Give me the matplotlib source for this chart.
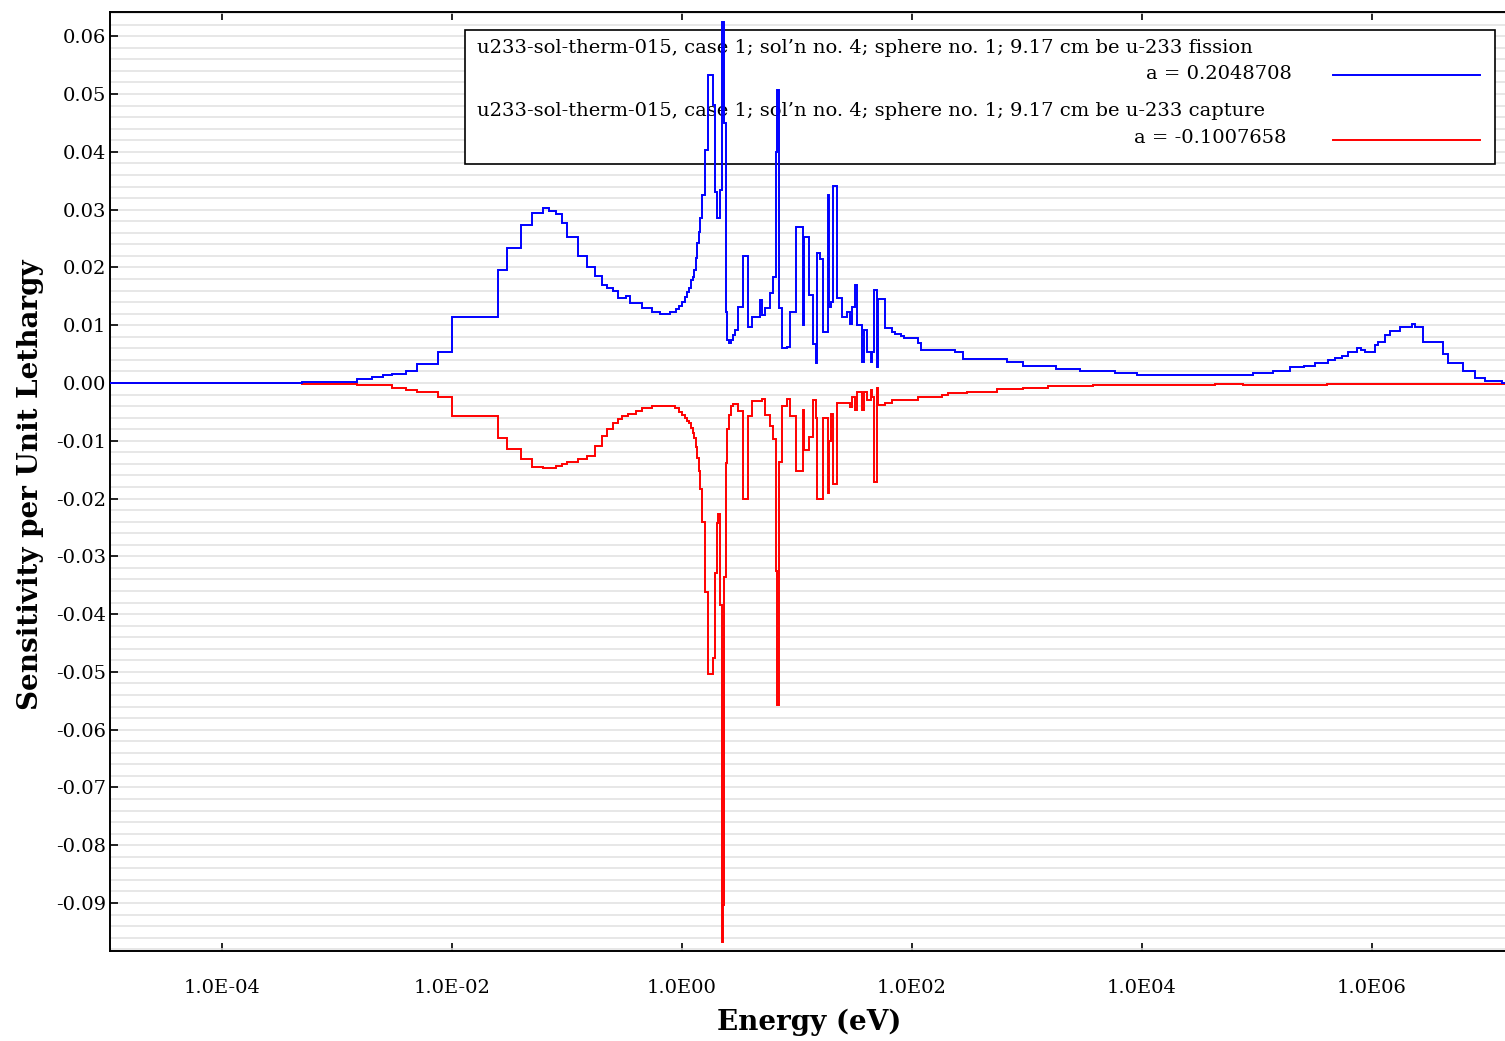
import numpy as np
import matplotlib
matplotlib.use("Agg")
import matplotlib.pyplot as plt
import matplotlib.ticker as ticker
from matplotlib.patches import Rectangle

# ---------------------------- DATA --------------------------------#
# lower group boundaries (eV) and sensitivity per unit lethargy
E_MAX = 2.0e7

fission_e = [1e-5, 5e-4, 1.5e-3, 2e-3, 2.5e-3, 3e-3, 4e-3, 5e-3, 7.5e-3, 1e-2,
             2.53e-2, 3e-2, 4e-2, 5e-2, 6.2e-2, 7e-2, 8e-2, 9e-2, 0.1, 0.125,
             0.15, 0.175, 0.2, 0.225, 0.25, 0.275, 0.325, 0.35, 0.45, 0.55,
             0.65, 0.78, 0.88, 0.94, 1.0, 1.06, 1.10, 1.15, 1.19, 1.24,
             1.27, 1.32, 1.36, 1.40, 1.43, 1.48, 1.585, 1.68, 1.85, 1.94,
             2.00, 2.14, 2.21, 2.32, 2.40, 2.45, 2.58, 2.67, 2.78, 2.89,
             3.07, 3.41, 3.77, 4.04, 4.77, 4.93, 5.27, 5.82, 6.22, 6.57,
             6.77, 6.97, 7.36, 8.13, 8.69, 9.80, 11.3, 11.5, 12.8, 13.7,
             14.6, 15.0, 15.85, 16.7, 18.5, 19.0, 19.6, 20.7, 22.4, 24.5,
             27.1, 28.9, 29.9, 31.9, 33.2, 36.7, 38.2, 40.9, 43.7, 45.4,
             47.0, 49.3, 51.1, 58.2, 66.6, 71.1, 80.2, 85.2, 113, 121,
             237, 279, 666, 923, 1778, 2891, 5823, 9057, 9.23e4, 1.38e5,
             1.94e5, 2.56e5, 3.19e5, 4.14e5, 4.76e5, 5.48e5, 6.18e5, 7.41e5, 8.02e5, 8.69e5,
             1.06e6, 1.13e6, 1.30e6, 1.43e6, 1.75e6, 2.23e6, 2.36e6, 2.78e6, 4.14e6, 4.58e6,
             6.18e6, 7.87e6, 9.61e6, 1.35e7]
fission_s = [0.0, 0.0002, 0.0007, 0.0011, 0.0014, 0.0015, 0.0021, 0.0033, 0.0054, 0.0114,
             0.0196, 0.0234, 0.0274, 0.0295, 0.0303, 0.0298, 0.0292, 0.0276, 0.0252, 0.0219,
             0.0201, 0.0185, 0.0170, 0.0164, 0.0160, 0.0147, 0.0151, 0.0138, 0.0129, 0.0123,
             0.0119, 0.0122, 0.0128, 0.0133, 0.0141, 0.0149, 0.0158, 0.0164, 0.0178, 0.0183,
             0.0196, 0.0216, 0.0242, 0.0262, 0.0285, 0.0325, 0.0403, 0.0533, 0.0481, 0.0331,
             0.0285, 0.0334, 0.0625, 0.0450, 0.0123, 0.0074, 0.0069, 0.0074, 0.0083, 0.0092,
             0.0132, 0.0219, 0.0097, 0.0115, 0.0144, 0.0118, 0.0130, 0.0156, 0.0184, 0.0400,
             0.0507, 0.0130, 0.0060, 0.0062, 0.0123, 0.0270, 0.0100, 0.0253, 0.0152, 0.0067,
             0.0035, 0.0225, 0.0215, 0.0089, 0.0325, 0.0132, 0.0140, 0.0341, 0.0147, 0.0114,
             0.0123, 0.0102, 0.0132, 0.0170, 0.0100, 0.0037, 0.0092, 0.0054, 0.0037, 0.0054,
             0.0161, 0.0028, 0.0145, 0.0095, 0.0089, 0.0084, 0.0081, 0.0077, 0.0070, 0.0057,
             0.0054, 0.0042, 0.0036, 0.0029, 0.0024, 0.0021, 0.0018, 0.0014, 0.0018, 0.0021,
             0.0027, 0.0029, 0.0034, 0.0040, 0.0044, 0.0047, 0.0054, 0.0061, 0.0057, 0.0054,
             0.0066, 0.0071, 0.0083, 0.0090, 0.0097, 0.0102, 0.0097, 0.0071, 0.0051, 0.0034,
             0.0021, 0.0008, 0.0003, 0.0]

capture_e = [1e-5, 5e-4, 1.5e-3, 3e-3, 4e-3, 5e-3, 7.5e-3, 1e-2, 2.53e-2, 3e-2,
             4e-2, 5e-2, 6.2e-2, 8e-2, 9e-2, 0.1, 0.125, 0.15, 0.175, 0.2,
             0.225, 0.25, 0.275, 0.30, 0.34, 0.40, 0.45, 0.55, 0.87, 0.94,
             1.0, 1.06, 1.10, 1.15, 1.19, 1.24, 1.27, 1.32, 1.36, 1.40,
             1.43, 1.48, 1.585, 1.68, 1.85, 1.94, 2.00, 2.07, 2.14, 2.21,
             2.27, 2.32, 2.40, 2.45, 2.58, 2.67, 2.78, 3.07, 3.41, 3.77,
             4.04, 4.93, 5.27, 5.82, 6.22, 6.57, 6.77, 6.97, 7.36, 8.13,
             8.69, 9.80, 11.3, 11.5, 12.8, 13.7, 14.6, 15.0, 16.7, 18.5,
             19.0, 19.6, 20.7, 22.4, 24.5, 28.9, 29.9, 31.9, 33.2, 36.7,
             38.2, 40.9, 43.7, 45.4, 47.0, 49.3, 51.1, 58.2, 66.6, 113,
             181, 207, 299, 545, 923, 1523, 3750, 4.31e4, 7.56e4, 4.06e5]
capture_s = [0.0, -0.0001, -0.0003, -0.0008, -0.0012, -0.0016, -0.0025, -0.0058, -0.0096, -0.0115,
             -0.0132, -0.0145, -0.0148, -0.0144, -0.0140, -0.0136, -0.0132, -0.0126, -0.0109, -0.0092,
             -0.0080, -0.0070, -0.0063, -0.0058, -0.0053, -0.0048, -0.0044, -0.0040, -0.0044, -0.0050,
             -0.0055, -0.0060, -0.0065, -0.0070, -0.0078, -0.0086, -0.0095, -0.0111, -0.0130, -0.0153,
             -0.0184, -0.0240, -0.0361, -0.0503, -0.0476, -0.0328, -0.0243, -0.0226, -0.0385, -0.0967,
             -0.0904, -0.0335, -0.0139, -0.0080, -0.0056, -0.0040, -0.0036, -0.0048, -0.0201, -0.0058,
             -0.0031, -0.0027, -0.0055, -0.0074, -0.0097, -0.0325, -0.0558, -0.0136, -0.0040, -0.0027,
             -0.0058, -0.0153, -0.0047, -0.0116, -0.0093, -0.0030, -0.0060, -0.0200, -0.0061, -0.0190,
             -0.0100, -0.0053, -0.0174, -0.0035, -0.0034, -0.0041, -0.0024, -0.0047, -0.0015, -0.0047,
             -0.0016, -0.0030, -0.0012, -0.0024, -0.0171, -0.0009, -0.0038, -0.0035, -0.0030, -0.0024,
             -0.0021, -0.0018, -0.0015, -0.0011, -0.0008, -0.0006, -0.0003, -0.0001, -0.0003, -0.0001]

fission_label = "u233-sol-therm-015, case 1; sol\u2019n no. 4; sphere no. 1; 9.17 cm be u-233 fission"
capture_label = "u233-sol-therm-015, case 1; sol\u2019n no. 4; sphere no. 1; 9.17 cm be u-233 capture"
fission_total = 0.2048708
capture_total = -0.1007658

x_ticks = [1e-4, 1e-2, 1e0, 1e2, 1e4, 1e6]
y_ticks = [-0.09, -0.08, -0.07, -0.06, -0.05, -0.04, -0.03, -0.02, -0.01,
           0.00, 0.01, 0.02, 0.03, 0.04, 0.05, 0.06]

########
# PLOT #
########
plt.rcParams.update({'font.family': 'DejaVu Serif',
                     'font.size': 14,
                     'axes.unicode_minus': False})

fig = plt.figure(figsize=(15.05, 10.41), dpi=100)
ax = fig.add_axes([110 / 1505, 90 / 1041, 1395 / 1505, 939 / 1041])

ax.stairs(capture_s, np.append(capture_e, E_MAX), color='#ff0000', linewidth=1.4, zorder=4)
ax.stairs(fission_s, np.append(fission_e, E_MAX), color='#0000ff', linewidth=1.4, zorder=5)

ax.set_xscale('log')
ax.set_xlim(1.06e-5, 1.44e7)
ax.set_ylim(-0.0983, 0.0642)

ax.xaxis.set_major_locator(ticker.FixedLocator(x_ticks))
ax.xaxis.set_minor_locator(ticker.NullLocator())
ax.xaxis.set_major_formatter(ticker.FuncFormatter(lambda v, p: f"{v:.1E}".replace('+', '')))
ax.yaxis.set_major_locator(ticker.FixedLocator(y_ticks))
ax.yaxis.set_minor_locator(ticker.MultipleLocator(0.002))
ax.yaxis.set_major_formatter(ticker.FuncFormatter(lambda v, p: f"{v:.2f}".replace('-0.00', '0.00')))

ax.tick_params(axis='both', which='major', direction='in', length=6, width=1.2, color='black')
ax.tick_params(axis='x', which='major', top=True, pad=20)
ax.tick_params(axis='y', which='major', pad=3)
ax.tick_params(axis='y', which='minor', length=0)

ax.grid(True, axis='y', which='both', color='#e0e0e0', linewidth=1.1, zorder=0)
ax.set_axisbelow(True)
for side in ('left', 'bottom', 'top'):
    ax.spines[side].set_linewidth(1.4)
ax.spines['right'].set_visible(False)

ax.set_xlabel('Energy (eV)', fontsize=20, fontweight='bold')
ax.xaxis.label.set_va('center')
ax.xaxis.set_label_coords(0.501, -0.0756)
ax.set_ylabel('Sensitivity per Unit Lethargy', fontsize=20, fontweight='bold')
ax.yaxis.label.set_va('center')
ax.yaxis.set_label_coords(-0.0573, 0.497)

# legend box drawn by hand, lines run over it
box = Rectangle((0.2545, 0.8381), 0.7383, 0.1427, transform=ax.transAxes,
                facecolor='white', edgecolor='black', linewidth=1.2, zorder=2)
ax.add_patch(box)
ax.text(0.2631, 0.9617, fission_label, transform=ax.transAxes, ha='left', va='center', zorder=3)
ax.text(0.8473, 0.934, f"a = {fission_total:.7f}", transform=ax.transAxes, ha='right', va='center', zorder=3)
ax.plot([0.8767, 0.9821], [0.9329, 0.9329], transform=ax.transAxes, color='#0000ff', linewidth=1.4, zorder=3)
ax.text(0.2631, 0.8946, capture_label, transform=ax.transAxes, ha='left', va='center', zorder=3)
ax.text(0.8437, 0.8658, f"a = {capture_total:.7f}", transform=ax.transAxes, ha='right', va='center', zorder=3)
ax.plot([0.8767, 0.9821], [0.8637, 0.8637], transform=ax.transAxes, color='#ff0000', linewidth=1.4, zorder=3)

fig.savefig('out.png', dpi=100)
